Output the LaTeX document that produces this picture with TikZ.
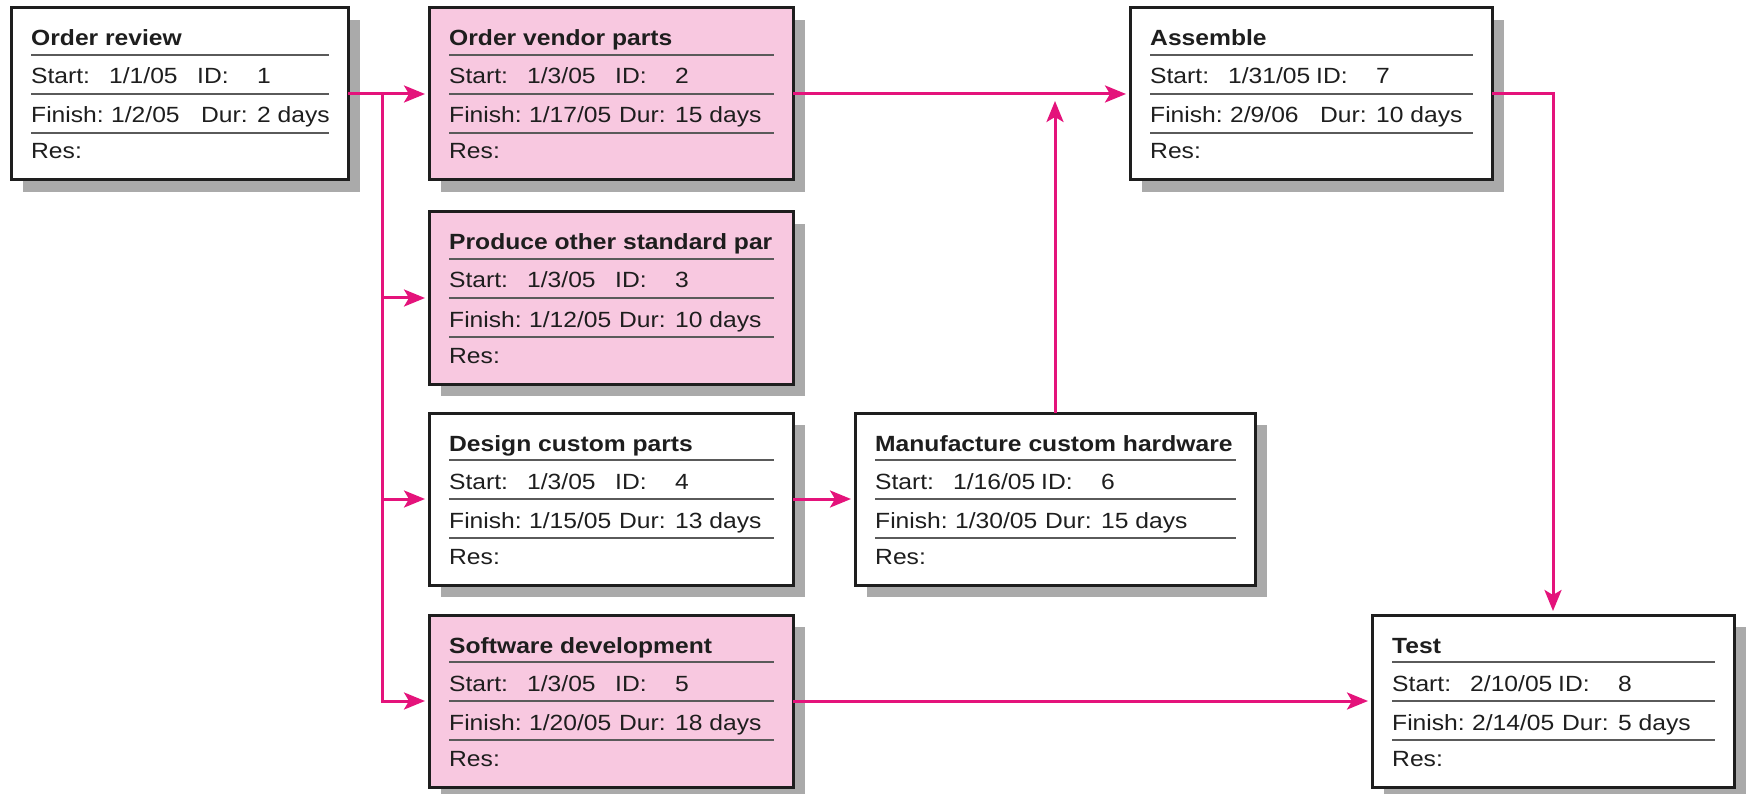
\documentclass[tikz,border=0pt]{standalone}
\usepackage{fontspec}
\setmainfont{Liberation Sans}[FakeStretch=1.12]
\usetikzlibrary{calc,shadows,arrows.meta}
\definecolor{arrowpink}{HTML}{E4137B}
\definecolor{boxpink}{HTML}{F8C8E0}
\definecolor{shadowgray}{HTML}{AAAAAA}
\definecolor{rulegray}{HTML}{5A5A5A}
\definecolor{inkblack}{HTML}{1E1E1E}
\tikzset{
  taskframe/.style={draw=inkblack, line width=3pt, outer sep=0pt, inner sep=0pt,
    minimum height=172pt, anchor=north west,
    drop shadow={shadow xshift=12pt, shadow yshift=-12pt, fill=shadowgray, opacity=1}},
  pinkbox/.style={taskframe, fill=boxpink},
  whitebox/.style={taskframe, fill=white},
  titletext/.style={anchor=base west, inner sep=0pt,
    font=\fontsize{22pt}{26pt}\selectfont\bfseries, text=inkblack},
  rowtext/.style={anchor=base west, inner sep=0pt,
    font=\fontsize{22pt}{26pt}\selectfont, text=inkblack},
  rowrule/.style={draw=rulegray, line width=2pt},
  conn/.style={draw=arrowpink, line width=3pt},
  arr/.style={conn, -{Stealth[length=21pt,width=17pt,inset=5pt]}, shorten >=4pt},
}
\newcommand\taskbox[9]{%
  \node[#4, minimum width=#3pt] (#1) at (#2) {};
  \node[titletext] (#1-title) at ($(#1.north west)+(20,38)$) {#5};
  \draw[rowrule] ($(#1.north west)+(20,47)$) -- ($(#1.north east)+(-19,47)$);
  \node[rowtext] (#1-start) at ($(#1.north west)+(20,76)$)
    {\makebox[78pt][l]{Start:}\makebox[88pt][l]{#6}\makebox[60pt][l]{ID:}#7};
  \draw[rowrule] ($(#1.north west)+(20,86)$) -- ($(#1.north east)+(-19,86)$);
  \node[rowtext] (#1-finish) at ($(#1.north west)+(20,115)$)
    {\makebox[80pt][l]{Finish:}\makebox[90pt][l]{#8}\makebox[56pt][l]{Dur:}#9};
  \draw[rowrule] ($(#1.north west)+(20,125)$) -- ($(#1.north east)+(-19,125)$);
  \node[rowtext] (#1-res) at ($(#1.north west)+(20,151)$) {Res:};
}
\begin{document}
\begin{tikzpicture}[x=1pt,y=-1pt]
  \useasboundingbox[fill=white] (0,0) rectangle (1746,794);
  \taskbox{b1}{11,8}{337}{whitebox}{Order review}{1/1/05}{1}{1/2/05}{2 days}
  \taskbox{b2}{429,8}{364}{pinkbox}{Order vendor parts}{1/3/05}{2}{1/17/05}{15 days}
  \taskbox{b3}{429,212}{364}{pinkbox}{Produce other standard par}{1/3/05}{3}{1/12/05}{10 days}
  \taskbox{b4}{429,413}{364}{whitebox}{Design custom parts}{1/3/05}{4}{1/15/05}{13 days}
  \taskbox{b5}{429,615}{364}{pinkbox}{Software development}{1/3/05}{5}{1/20/05}{18 days}
  \taskbox{b6}{855,413}{400}{whitebox}{Manufacture custom hardware}{1/16/05}{6}{1/30/05}{15 days}
  \taskbox{b7}{1130,8}{362}{whitebox}{Assemble}{1/31/05}{7}{2/9/06}{10 days}
  \taskbox{b8}{1372,615}{362}{whitebox}{Test}{2/10/05}{8}{2/14/05}{5 days}
  % connectors
  \path (b1.east) ++(34,0) coordinate (j1);
  \draw[arr] (b1.east) -- (b2.west);
  \draw[arr] (j1) |- (b3.west);
  \draw[arr] (j1) |- (b4.west);
  \draw[arr] (j1) |- (b5.west);
  \draw[arr] (b2.east) -- (b7.west);
  \draw[arr] (b4.east) -- (b6.west);
  \draw[arr] (b5.east) -- (b8.west);
  \draw[arr] (b7.east) -| (b8.north);
  \coordinate (j2) at (b6.north |- b2.east);
  \draw[arr, shorten >=7pt] (b6.north) -- (j2);
\end{tikzpicture}
\end{document}
